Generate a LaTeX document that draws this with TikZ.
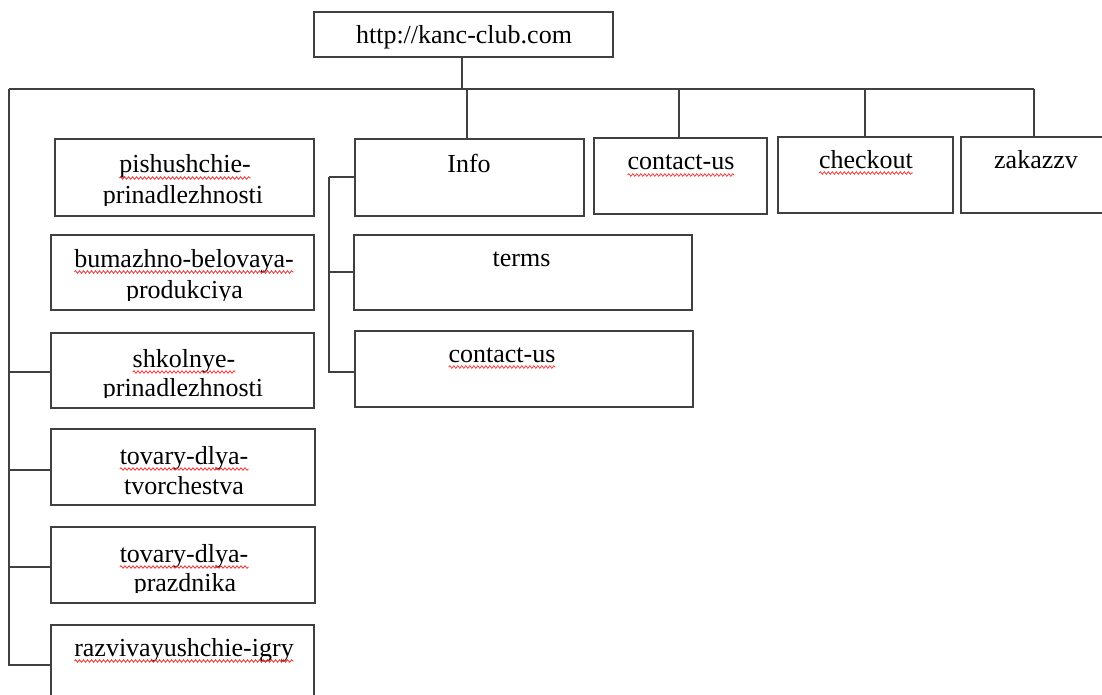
\documentclass[tikz,border=0pt]{standalone}
\usepackage{fontspec}
\setmainfont{Liberation Serif}
\usetikzlibrary{decorations.pathmorphing}
\begin{document}
\begin{tikzpicture}[x=1pt,y=-1pt,
  box/.style={draw=black!75,line width=1.5pt,inner sep=0pt,outer sep=0pt,anchor=north west,fill=white},
  wire/.style={draw=black!75,line width=1.5pt},
  txt/.style={inner sep=0pt,outer sep=0pt,anchor=base,font=\fontsize{26}{30}\selectfont,text=black},
  squig/.style={draw=red!85,line width=0.7pt,decorate,decoration={snake,amplitude=1.3pt,segment length=4pt}}]
\clip (0,0) rectangle (1102,695);
\fill[white] (0,0) rectangle (1102,695);
% boxes
\node[box,minimum width=299,minimum height=45] (root) at (314,12) {};
\node[box,minimum width=229,minimum height=77] (info) at (355,139) {};
\node[box,minimum width=173,minimum height=76] (cu1) at (594,138) {};
\node[box,minimum width=175,minimum height=76] (chk) at (778,137) {};
\node[box,minimum width=146,minimum height=76] (zak) at (961,137) {};
\node[box,minimum width=338,minimum height=75] (terms) at (354,235) {};
\node[box,minimum width=338,minimum height=76] (cu2) at (355,331) {};
\node[box,minimum width=259,minimum height=77] (pish) at (55,139) {};
\node[box,minimum width=263,minimum height=75] (bum) at (51,235) {};
\node[box,minimum width=263,minimum height=75] (shk) at (51,333) {};
\node[box,minimum width=264,minimum height=76] (tvor) at (51,429) {};
\node[box,minimum width=264,minimum height=76] (praz) at (51,527) {};
\node[box,minimum width=263,minimum height=80] (razv) at (51,625) {};
% connectors
\coordinate (L) at (9,89);
\coordinate (R) at (1034,89);
\draw[wire] ([xshift=-1.5pt]root.south) -- ([xshift=-1.5pt]root.south |- L);
\draw[wire] (L) -- (R);
\draw[wire] (R) -- (R |- zak.north);
\draw[wire] ([xshift=-2.5pt]info.north) -- ([xshift=-2.5pt]info.north |- L);
\draw[wire] ([xshift=-1.5pt]cu1.north) -- ([xshift=-1.5pt]cu1.north |- L);
\draw[wire] ([xshift=-0.5pt]chk.north) -- ([xshift=-0.5pt]chk.north |- L);
\draw[wire] (L) |- (razv.west);
\draw[wire] (L) |- ([yshift=-1.5pt]shk.west);
\draw[wire] (L) |- ([yshift=-3pt]tvor.west);
\draw[wire] (L) |- ([yshift=-2pt]praz.west);
\coordinate (IL) at (329,177);
\draw[wire] (IL) -- (info.west |- IL);
\draw[wire] (IL) |- ([yshift=0.5pt]terms.west);
\draw[wire] (IL) |- ([yshift=-3pt]cu2.west);
% texts
\node[txt] (t-root) at (464,44) {http://kanc-club.com};
\node[txt] (t-info) at (469,172) {Info};
\node[txt] (t-cu1) at (681,170) {contact-us};
\node[txt] (t-chk) at (866,168) {checkout};
\node[txt] (t-zak) at (1036,169) {zakazzv};
\node[txt] (t-terms) at (521.5,266) {terms};
\node[txt] (t-cu2) at (502,362) {contact-us};
\node[txt] (t-pish) at (185,173) {pishushchie-};
\node[txt] (t-bum) at (184,267) {bumazhno-belovaya-};
\node[txt] (t-shk) at (184,367) {shkolnye-};
\node[txt] (t-tvor) at (184,464) {tovary-dlya-};
\node[txt] (t-tvor2) at (184,494) {tvorchestva};
\node[txt] (t-praz) at (184,562) {tovary-dlya-};
\node[txt] (t-razv) at (184,656) {razvivayushchie-igry};
\begin{scope}
\clip (pish.north west) rectangle ([yshift=11pt]pish.south east);
\node[txt] (t-pish2) at (183,204) {prinadlezhnosti};
\end{scope}
\begin{scope}
\clip (bum.north west) rectangle ([yshift=10pt]bum.south east);
\node[txt] (t-bum2) at (184.5,298) {produkciya};
\end{scope}
\begin{scope}
\clip (shk.north west) rectangle ([yshift=11pt]shk.south east);
\node[txt] (t-shk2) at (183,396) {prinadlezhnosti};
\end{scope}
\begin{scope}
\clip (praz.north west) rectangle ([yshift=11pt]praz.south east);
\node[txt] (t-praz2) at (185,591) {prazdnika};
\end{scope}
% spell-check underlines
\foreach \t in {t-cu1,t-chk,t-cu2,t-pish,t-bum,t-shk,t-tvor,t-praz,t-razv}
  \draw[squig] ([yshift=-5pt]\t.base west) -- ([yshift=-5pt]\t.base east);
\end{tikzpicture}
\end{document}
